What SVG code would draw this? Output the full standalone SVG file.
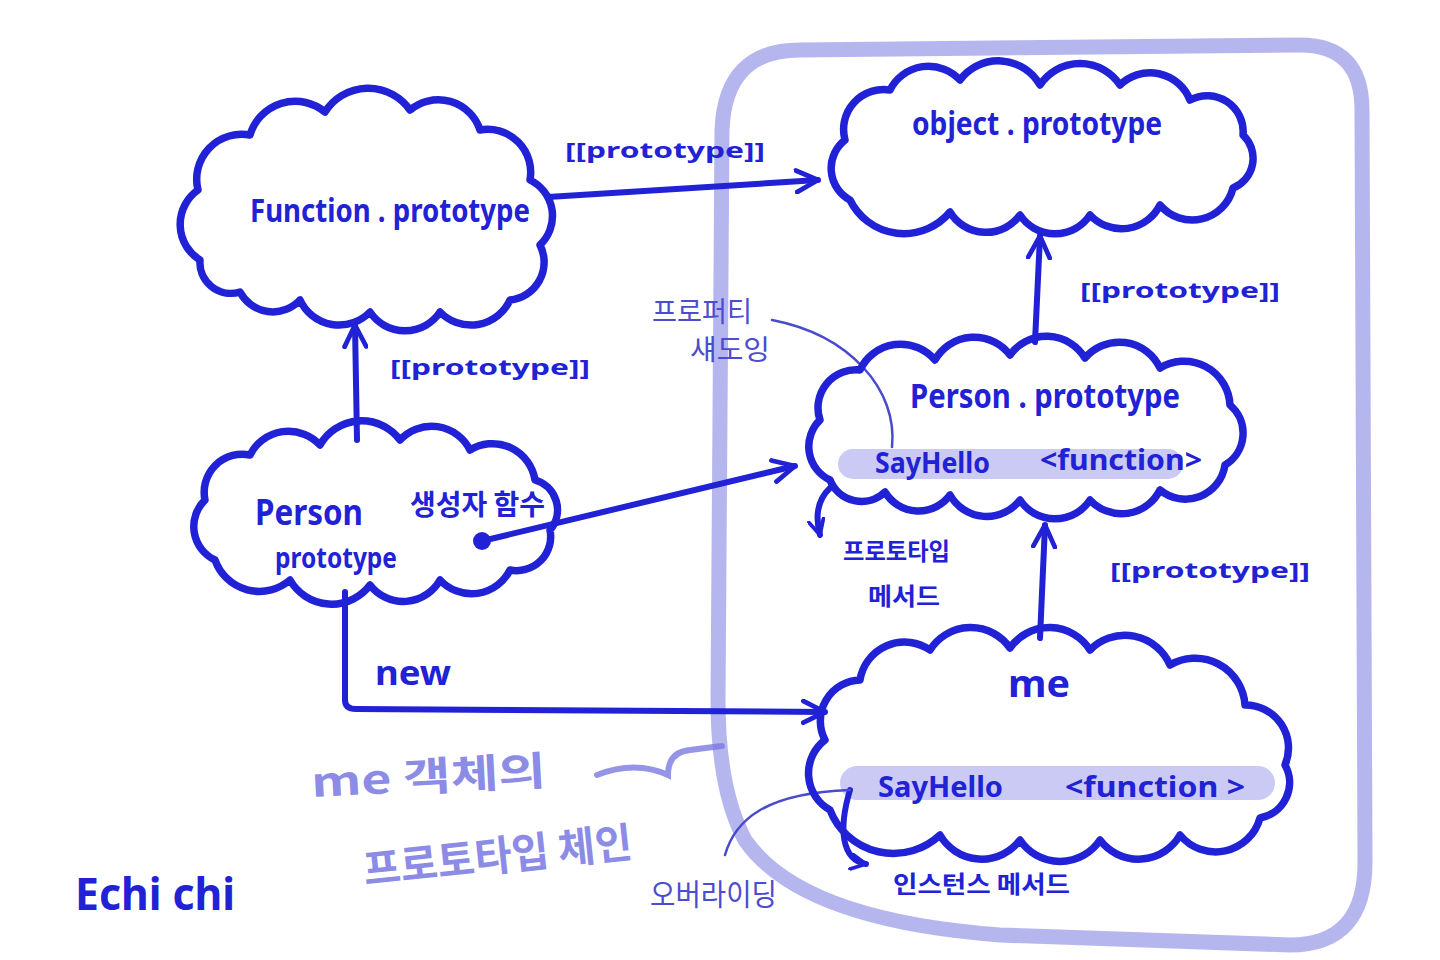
<svg xmlns="http://www.w3.org/2000/svg" width="1440" height="960" viewBox="0 0 1440 960">
<defs>
<style>
.cloud{fill:none;stroke:#2121d6;stroke-width:7.5;stroke-linejoin:round;stroke-linecap:round}
.conn{fill:none;stroke:#2121d6;stroke-width:6;stroke-linecap:round}
.thin{fill:none;stroke:#4a4acc;stroke-width:2.5;stroke-linecap:round}
.t{font-family:"Noto Sans","Noto Sans CJK KR",sans-serif;fill:#2121d6;font-weight:700}
.k{font-family:"Noto Sans CJK KR","Noto Sans",sans-serif;fill:#2121d6;font-weight:700}
.light{font-family:"Noto Sans CJK KR","Noto Sans",sans-serif;fill:#7878e2;font-weight:700;opacity:0.85}
.note{font-family:"Noto Sans CJK KR","Noto Sans",sans-serif;fill:#4c4cd0;font-weight:400}
.band{fill:#b8b8f0;opacity:0.75}
</style>
<marker id="ah" viewBox="0 0 12 12" refX="11" refY="6" markerWidth="26" markerHeight="26" markerUnits="userSpaceOnUse" orient="auto">
<path d="M1,1 L11,6 L1,11" fill="none" stroke="#2121d6" stroke-width="2.2" stroke-linecap="round" stroke-linejoin="round"/>
</marker>
<marker id="ahs" viewBox="0 0 12 12" refX="11" refY="6" markerWidth="18" markerHeight="18" markerUnits="userSpaceOnUse" orient="auto">
<path d="M1,1 L11,6 L1,11" fill="none" stroke="#2121d6" stroke-width="2.5" stroke-linecap="round" stroke-linejoin="round"/>
</marker>
</defs>
<rect width="1440" height="960" fill="#ffffff"/>

<!-- big highlight loop -->
<path d="M800,50 L1300,45 Q1362,45 1362,110 L1365,860 Q1366,945 1290,945 L1000,935 Q800,920 745,840 Q718,790 718,700 L722,130 Q725,50 800,50 Z" fill="none" stroke="#a9a9ec" stroke-width="15" opacity="0.85"/>

<!-- highlight bands -->
<rect class="band" x="838" y="449" width="345" height="30" rx="15"/>
<rect class="band" x="840" y="766" width="435" height="34" rx="17"/>

<g id="connectors">
<path class="conn" d="M548,197 L818,180" marker-end="url(#ah)"/>
<path class="conn" d="M357,440 L355,325" marker-end="url(#ah)"/>
<path class="conn" d="M482,541 L795,466" marker-end="url(#ah)"/>
<circle cx="482" cy="541" r="9" fill="#2121d6"/>
<path class="conn" d="M1035,342 L1040,236" marker-end="url(#ah)"/>
<path class="conn" d="M1040,638 L1045,525" marker-end="url(#ah)"/>
<path class="conn" d="M345,592 L345,700 Q345,709 356,709 L825,712" marker-end="url(#ah)"/>
<path class="conn" stroke-width="4" d="M830,488 Q812,505 820,535" marker-end="url(#ahs)"/>
<path class="conn" stroke-width="4" d="M850,790 C838,830 842,860 866,864" marker-end="url(#ahs)"/>
<path class="thin" d="M772,320 C850,335 898,390 892,447"/>
<path class="thin" d="M725,855 C735,820 765,793 850,790"/>
<path d="M597,775 Q635,760 668,775 Q668,752 690,750 Q705,748 722,746" fill="none" stroke="#7a7ae2" stroke-width="6" stroke-linecap="round" opacity="0.8"/>
<text class="t" x="565" y="158" font-size="22" textLength="200" lengthAdjust="spacingAndGlyphs">[[prototype]]</text>
<text class="t" x="390" y="375" font-size="22" textLength="200" lengthAdjust="spacingAndGlyphs">[[prototype]]</text>
<text class="t" x="1080" y="298" font-size="22" textLength="200" lengthAdjust="spacingAndGlyphs">[[prototype]]</text>
<text class="t" x="1110" y="578" font-size="22" textLength="200" lengthAdjust="spacingAndGlyphs">[[prototype]]</text>
<text class="t" x="375" y="685" font-size="34" textLength="76" lengthAdjust="spacingAndGlyphs">new</text>
</g>

<g id="function-prototype">
<path class="cloud" d="M200,260 A42,42 0 0 1 198,190 A45,45 0 0 1 250,135 A47,47 0 0 1 325,112 A51,51 0 0 1 410,110 A44,44 0 0 1 480,130 A43,43 0 0 1 530,180 A40,40 0 0 1 540,245 A38,38 0 0 1 510,300 A43,43 0 0 1 440,312 A42,42 0 0 1 370,312 A43,43 0 0 1 300,300 A37,37 0 0 1 240,292 A31,31 0 0 1 200,260 Z"/>
<text class="t" x="250" y="222" font-size="32" font-weight="400" textLength="280" lengthAdjust="spacingAndGlyphs">Function . prototype</text>
</g>

<g id="object-prototype">
<path class="cloud" d="M850,200 A36,36 0 0 1 845,140 A40,40 0 0 1 890,90 A43,43 0 0 1 960,80 A48,48 0 0 1 1040,85 A48,48 0 0 1 1120,85 A43,43 0 0 1 1190,100 A36,36 0 0 1 1243,135 A32,32 0 0 1 1233,188 A42,42 0 0 1 1160,205 A43,43 0 0 1 1090,215 A42,42 0 0 1 1020,215 A42,42 0 0 1 950,212 A60,60 0 0 1 850,200 Z"/>
<text class="t" x="912" y="135" font-size="32" font-weight="400" textLength="250" lengthAdjust="spacingAndGlyphs">object . prototype</text>
</g>

<g id="person">
<path class="cloud" d="M215,560 A37,37 0 0 1 205,500 A38,38 0 0 1 250,455 A43,43 0 0 1 320,445 A48,48 0 0 1 400,440 A43,43 0 0 1 470,450 A43,43 0 0 1 535,480 A31,31 0 0 1 550,530 A34,34 0 0 1 510,570 A43,43 0 0 1 440,580 A42,42 0 0 1 370,585 A48,48 0 0 1 290,580 A47,47 0 0 1 215,560 Z"/>
<text class="t" x="255" y="525" font-size="36" font-weight="400" textLength="108" lengthAdjust="spacingAndGlyphs">Person</text>
<text class="t" x="275" y="568" font-size="28" font-weight="400" textLength="122" lengthAdjust="spacingAndGlyphs">prototype</text>
<text class="k" x="410" y="515" font-size="28" textLength="135" lengthAdjust="spacingAndGlyphs">생성자 함수</text>
</g>

<g id="person-prototype">
<path class="cloud" d="M830,480 A37,37 0 0 1 820,420 A38,38 0 0 1 860,370 A45,45 0 0 1 935,360 A45,45 0 0 1 1010,355 A45,45 0 0 1 1085,358 A45,45 0 0 1 1160,368 A46,46 0 0 1 1230,405 A37,37 0 0 1 1225,465 A40,40 0 0 1 1160,490 A43,43 0 0 1 1090,500 A42,42 0 0 1 1020,500 A42,42 0 0 1 950,495 A39,39 0 0 1 885,492 A34,34 0 0 1 830,480 Z"/>
<text class="t" x="910" y="408" font-size="34" font-weight="400" textLength="270" lengthAdjust="spacingAndGlyphs">Person . prototype</text>
<text class="t" x="875" y="473" font-size="28" font-weight="400" textLength="115" lengthAdjust="spacingAndGlyphs">SayHello</text>
<text class="t" x="1040" y="470" font-size="28" font-weight="400" textLength="162" lengthAdjust="spacingAndGlyphs">&lt;function&gt;</text>
<text class="k" x="843" y="560" font-size="24" textLength="107" lengthAdjust="spacingAndGlyphs">프로토타입</text>
<text class="k" x="868" y="605" font-size="24" textLength="72" lengthAdjust="spacingAndGlyphs">메서드</text>
</g>

<g id="me">
<path class="cloud" d="M830,810 A42,42 0 0 1 825,740 A41,41 0 0 1 860,680 A45,45 0 0 1 930,650 A48,48 0 0 1 1010,648 A48,48 0 0 1 1090,650 A49,49 0 0 1 1170,665 A50,50 0 0 1 1245,705 A43,43 0 0 1 1285,765 A36,36 0 0 1 1260,818 A46,46 0 0 1 1180,835 A48,48 0 0 1 1100,840 A48,48 0 0 1 1020,840 A48,48 0 0 1 940,835 A68,68 0 0 1 830,810 Z"/>
<text class="t" x="1008" y="697" font-size="38" textLength="62" lengthAdjust="spacingAndGlyphs">me</text>
<text class="t" x="878" y="797" font-size="28" font-weight="400" textLength="125" lengthAdjust="spacingAndGlyphs">SayHello</text>
<text class="t" x="1065" y="797" font-size="28" font-weight="400" textLength="180" lengthAdjust="spacingAndGlyphs">&lt;function &gt;</text>
<text class="k" x="893" y="893" font-size="24" textLength="177" lengthAdjust="spacingAndGlyphs">인스턴스 메서드</text>
</g>

<g id="notes">
<text class="note" x="652" y="322" font-size="28" textLength="100" lengthAdjust="spacingAndGlyphs">프로퍼티</text>
<text class="note" x="690" y="360" font-size="28" textLength="80" lengthAdjust="spacingAndGlyphs">섀도잉</text>
<text class="note" x="650" y="905" font-size="30" textLength="127" lengthAdjust="spacingAndGlyphs">오버라이딩</text>
<text class="light" x="312" y="797" font-size="40" transform="rotate(-3 312 797)" textLength="235" lengthAdjust="spacingAndGlyphs">me 객체의</text>
<text class="light" x="365" y="885" font-size="42" transform="rotate(-6 365 885)" textLength="270" lengthAdjust="spacingAndGlyphs">프로토타입 체인</text>
<text class="t" x="75" y="910" font-size="44" textLength="160" lengthAdjust="spacingAndGlyphs">Echi chi</text>
</g>
</svg>
